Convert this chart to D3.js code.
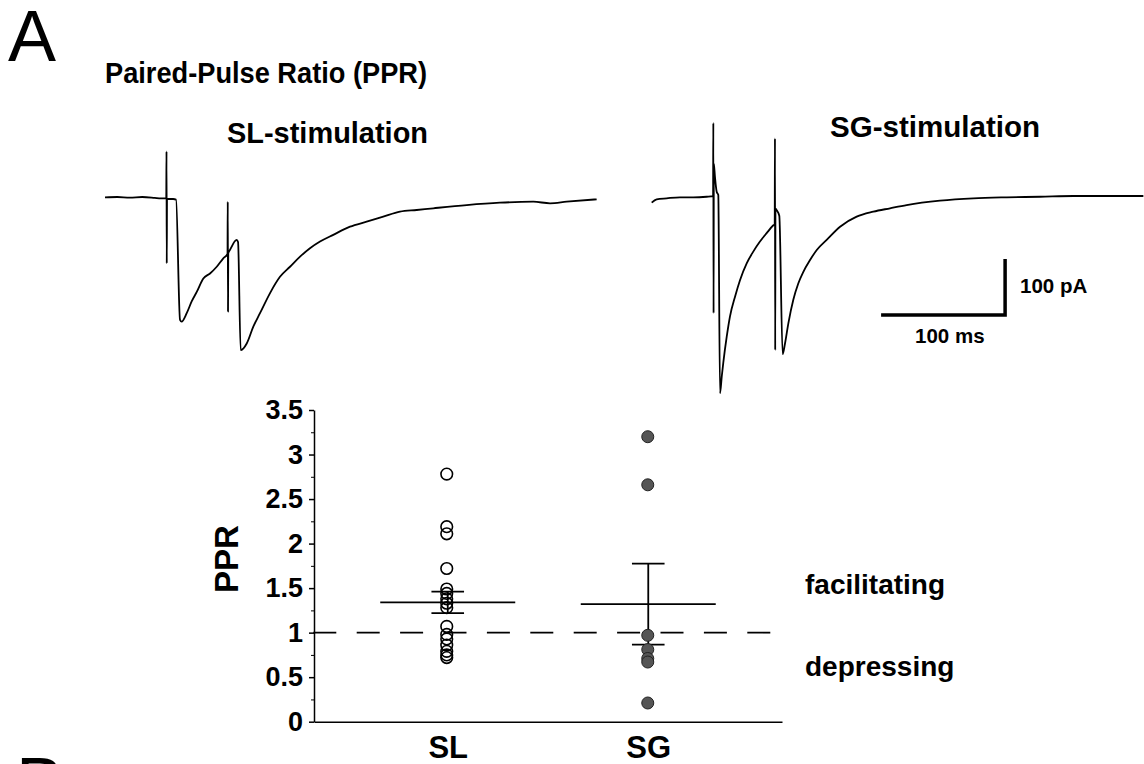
<!DOCTYPE html>
<html lang="en">
<head>
<meta charset="UTF-8">
<title>Paired-Pulse Ratio (PPR)</title>
<script src="https://cdn.jsdelivr.net/npm/d3@7"></script>
<style>
    body { margin: 0; background: #fff; }
    text { font-family: "Liberation Sans", Arial, sans-serif; fill: #000; }
</style>
</head>
<body>
<svg id="fig" width="1144" height="764"></svg>
<script>
// example traces, [time ms, current pA]
var slTrace = [
    [0, 0], [10, 0.5], [20, -0.5], [30, 0.5], [40, -1], [45, -2], [49.4, -2],
    [49.6, 82], [49.8, -118], [50.0, -3], [55, -3], [57.3, -4],
    [60.5, -219], [61.8, -222], [65.9, -207], [69.9, -186], [74, -169], [79.3, -145],
    [84.7, -136], [90.1, -124], [95.4, -109], [98.8, -101],
    [99.0, -8], [99.2, -204], [99.4, -100], [100.8, -94], [106.2, -76], [107.3, -80],
    [109.4, -273], [114.3, -261], [119.6, -231], [125, -207], [133.1, -171], [141.1, -142],
    [149.2, -124], [157.3, -106], [165.3, -91], [173.4, -79], [184.1, -67], [197.6, -52.5],
    [211, -43.6], [224.4, -34.6], [237.9, -25.7], [251.4, -22.7], [264.8, -19.6], [291.7, -13.8],
    [318.5, -9.6], [345.4, -7.9], [358.9, -10.7], [372.3, -7.9], [396.5, -3.6]
];
var sgTrace = [
    [0, -9.6], [4, -3.6], [12.1, -1.8], [22.8, 0], [33.5, 0], [44.3, 1], [49.5, 2],
    [49.7, 133], [49.9, -207], [50.1, 60], [51, 37], [52.4, 10], [53.7, 4],
    [55.1, -350], [56.5, -320], [57.7, -296], [60.5, -249], [63.1, -213], [67.2, -177.5],
    [71.2, -148], [76.6, -118], [81.9, -97], [87.3, -79], [92.7, -64], [98.1, -50], [99.2, -48],
    [99.4, 105], [99.6, -273], [99.8, -20], [100.8, -23], [102.9, -33],
    [105.6, -280], [107.5, -261], [110.2, -225], [114.2, -183], [118.2, -154], [122.3, -133],
    [127.7, -112], [133.1, -94], [141.1, -76], [151.9, -52.5], [165.3, -34.6], [178.7, -25.7],
    [192.2, -19.6], [205.6, -13.8], [232.5, -6], [259.4, -1.8], [286.3, 0], [313.2, 1],
    [340.1, 2.3], [367, 2.3], [396.5, 2.3]
];
var scaleBarMs = 100;
var scaleBarPa = 100;

// paired-pulse ratios per cell
var groups = ['SL', 'SG'];
var slPPR = [2.78, 2.19, 2.11, 1.72, 1.49, 1.44, 1.38, 1.33, 1.28, 1.07, 0.98, 0.93, 0.86, 0.79, 0.75, 0.72];
var sgPPR = [3.2, 2.66, 0.97, 0.81, 0.71, 0.67, 0.21];
var pprMean = [1.34, 1.32];
var pprSem = [0.12, 0.455];
var yTicks = [0, 0.5, 1, 1.5, 2, 2.5, 3, 3.5];
var yMinor = [0.25, 0.75, 1.25, 1.75, 2.25, 2.75, 3.25];

var svg = d3.select('#fig');

// panel letters and titles
svg.append('text').attr('x', 8).attr('y', 61).attr('font-size', 72).text('A');
svg.append('text').attr('x', 16).attr('y', 808).attr('font-size', 72).text('B');
svg.append('text').attr('x', 105).attr('y', 83).attr('font-size', 30).attr('font-weight', 'bold')
    .attr('textLength', 322).attr('lengthAdjust', 'spacingAndGlyphs')
    .text('Paired-Pulse Ratio (PPR)');
svg.append('text').attr('x', 227).attr('y', 143).attr('font-size', 29).attr('font-weight', 'bold')
    .attr('textLength', 201).attr('lengthAdjust', 'spacingAndGlyphs')
    .text('SL-stimulation');
svg.append('text').attr('x', 830).attr('y', 137).attr('font-size', 29).attr('font-weight', 'bold')
    .attr('textLength', 210).attr('lengthAdjust', 'spacingAndGlyphs')
    .text('SG-stimulation');

// traces
var iScale = d3.scaleLinear().domain([0, -100]).range([197.3, 253.3]);
var tSL = d3.scaleLinear().domain([0, 400]).range([105, 601]);
var tSG = d3.scaleLinear().domain([0, 400]).range([651.7, 1147.7]);

function drawTrace(data, ts) {
    var line = d3.line()
        .x(function (d) { return ts(d[0]); })
        .y(function (d) { return iScale(d[1]); })
        .curve(d3.curveMonotoneX);
    svg.append('path')
        .datum(data)
        .attr('d', line)
        .attr('fill', 'none')
        .attr('stroke', '#000')
        .attr('stroke-width', 1.8)
        .attr('stroke-linejoin', 'round');
}
drawTrace(slTrace, tSL);
drawTrace(sgTrace, tSG);

// scale bar (corner at 285 ms / -210 pA in the SG frame)
var cornerT = 285, cornerI = -210;
svg.append('path')
    .attr('d', 'M' + tSG(cornerT - scaleBarMs) + ',' + iScale(cornerI) +
        'H' + tSG(cornerT) + 'V' + iScale(cornerI + scaleBarPa))
    .attr('fill', 'none').attr('stroke', '#000').attr('stroke-width', 3.5);
svg.append('text').attr('x', 1020).attr('y', 293).attr('font-size', 20.5)
    .attr('font-weight', 'bold').text(scaleBarPa + ' pA');
svg.append('text').attr('x', 915).attr('y', 343).attr('font-size', 20.5)
    .attr('font-weight', 'bold').text(scaleBarMs + ' ms');

// PPR scatter
var y = d3.scaleLinear().domain([0, 3.5]).range([721.7, 410]);
var x = d3.scalePoint().domain(groups).range([314, 782]).padding(0.667);

var yAxis = svg.append('g').attr('transform', 'translate(314,0)')
    .call(d3.axisLeft(y).tickValues(yTicks).tickFormat(d3.format('')).tickSize(5).tickSizeOuter(0).tickPadding(6));
svg.append('g').attr('transform', 'translate(314,0)')
    .call(d3.axisLeft(y).tickValues(yMinor).tickFormat('').tickSize(3).tickSizeOuter(0))
    .select('.domain').remove();
yAxis.selectAll('text').attr('font-size', 27).attr('font-weight', 'bold').attr('font-family', null);
yAxis.selectAll('path, line').attr('stroke-width', 1.5);

var xAxis = svg.append('g').attr('transform', 'translate(0,721.7)')
    .call(d3.axisBottom(x).tickSize(0).tickSizeOuter(0).tickPadding(14));
xAxis.selectAll('text').attr('font-size', 31).attr('font-weight', 'bold').attr('font-family', null);
xAxis.select('.domain').attr('stroke-width', 1.5);

svg.append('text')
    .attr('transform', 'translate(238,559) rotate(-90)')
    .attr('text-anchor', 'middle')
    .attr('font-size', 33).attr('font-weight', 'bold')
    .text('PPR');

// PPR = 1 reference
svg.append('line')
    .attr('x1', 313.3).attr('x2', 771.5)
    .attr('y1', y(1)).attr('y2', y(1))
    .attr('stroke', '#000').attr('stroke-width', 1.8)
    .attr('stroke-dasharray', '23,20.4');

svg.append('text').attr('x', 805).attr('y', 594).attr('font-size', 28)
    .attr('font-weight', 'bold').text('facilitating');
svg.append('text').attr('x', 805).attr('y', 676).attr('font-size', 28)
    .attr('font-weight', 'bold').text('depressing');

// mean and SEM
groups.forEach(function (g, i) {
    var cx = x(g), m = pprMean[i], s = pprSem[i];
    var grp = svg.append('g').attr('stroke', '#000').attr('stroke-width', 1.8);
    grp.append('line').attr('x1', cx - 67.5).attr('x2', cx + 67.5).attr('y1', y(m)).attr('y2', y(m));
    grp.append('line').attr('x1', cx).attr('x2', cx).attr('y1', y(m - s)).attr('y2', y(m + s));
    grp.append('line').attr('x1', cx - 16.3).attr('x2', cx + 16.3).attr('y1', y(m + s)).attr('y2', y(m + s));
    grp.append('line').attr('x1', cx - 16.3).attr('x2', cx + 16.3).attr('y1', y(m - s)).attr('y2', y(m - s));
});

svg.append('g').selectAll('circle')
    .data(slPPR).enter().append('circle')
    .attr('cx', x('SL') - 1).attr('cy', function (d) { return y(d); })
    .attr('r', 5.8)
    .attr('fill', 'none').attr('stroke', '#000').attr('stroke-width', 1.6);

svg.append('g').selectAll('circle')
    .data(sgPPR).enter().append('circle')
    .attr('cx', x('SG') - 0.5).attr('cy', function (d) { return y(d); })
    .attr('r', 6)
    .attr('fill', '#555').attr('stroke', '#222').attr('stroke-width', 1);
</script>
</body>
</html>
